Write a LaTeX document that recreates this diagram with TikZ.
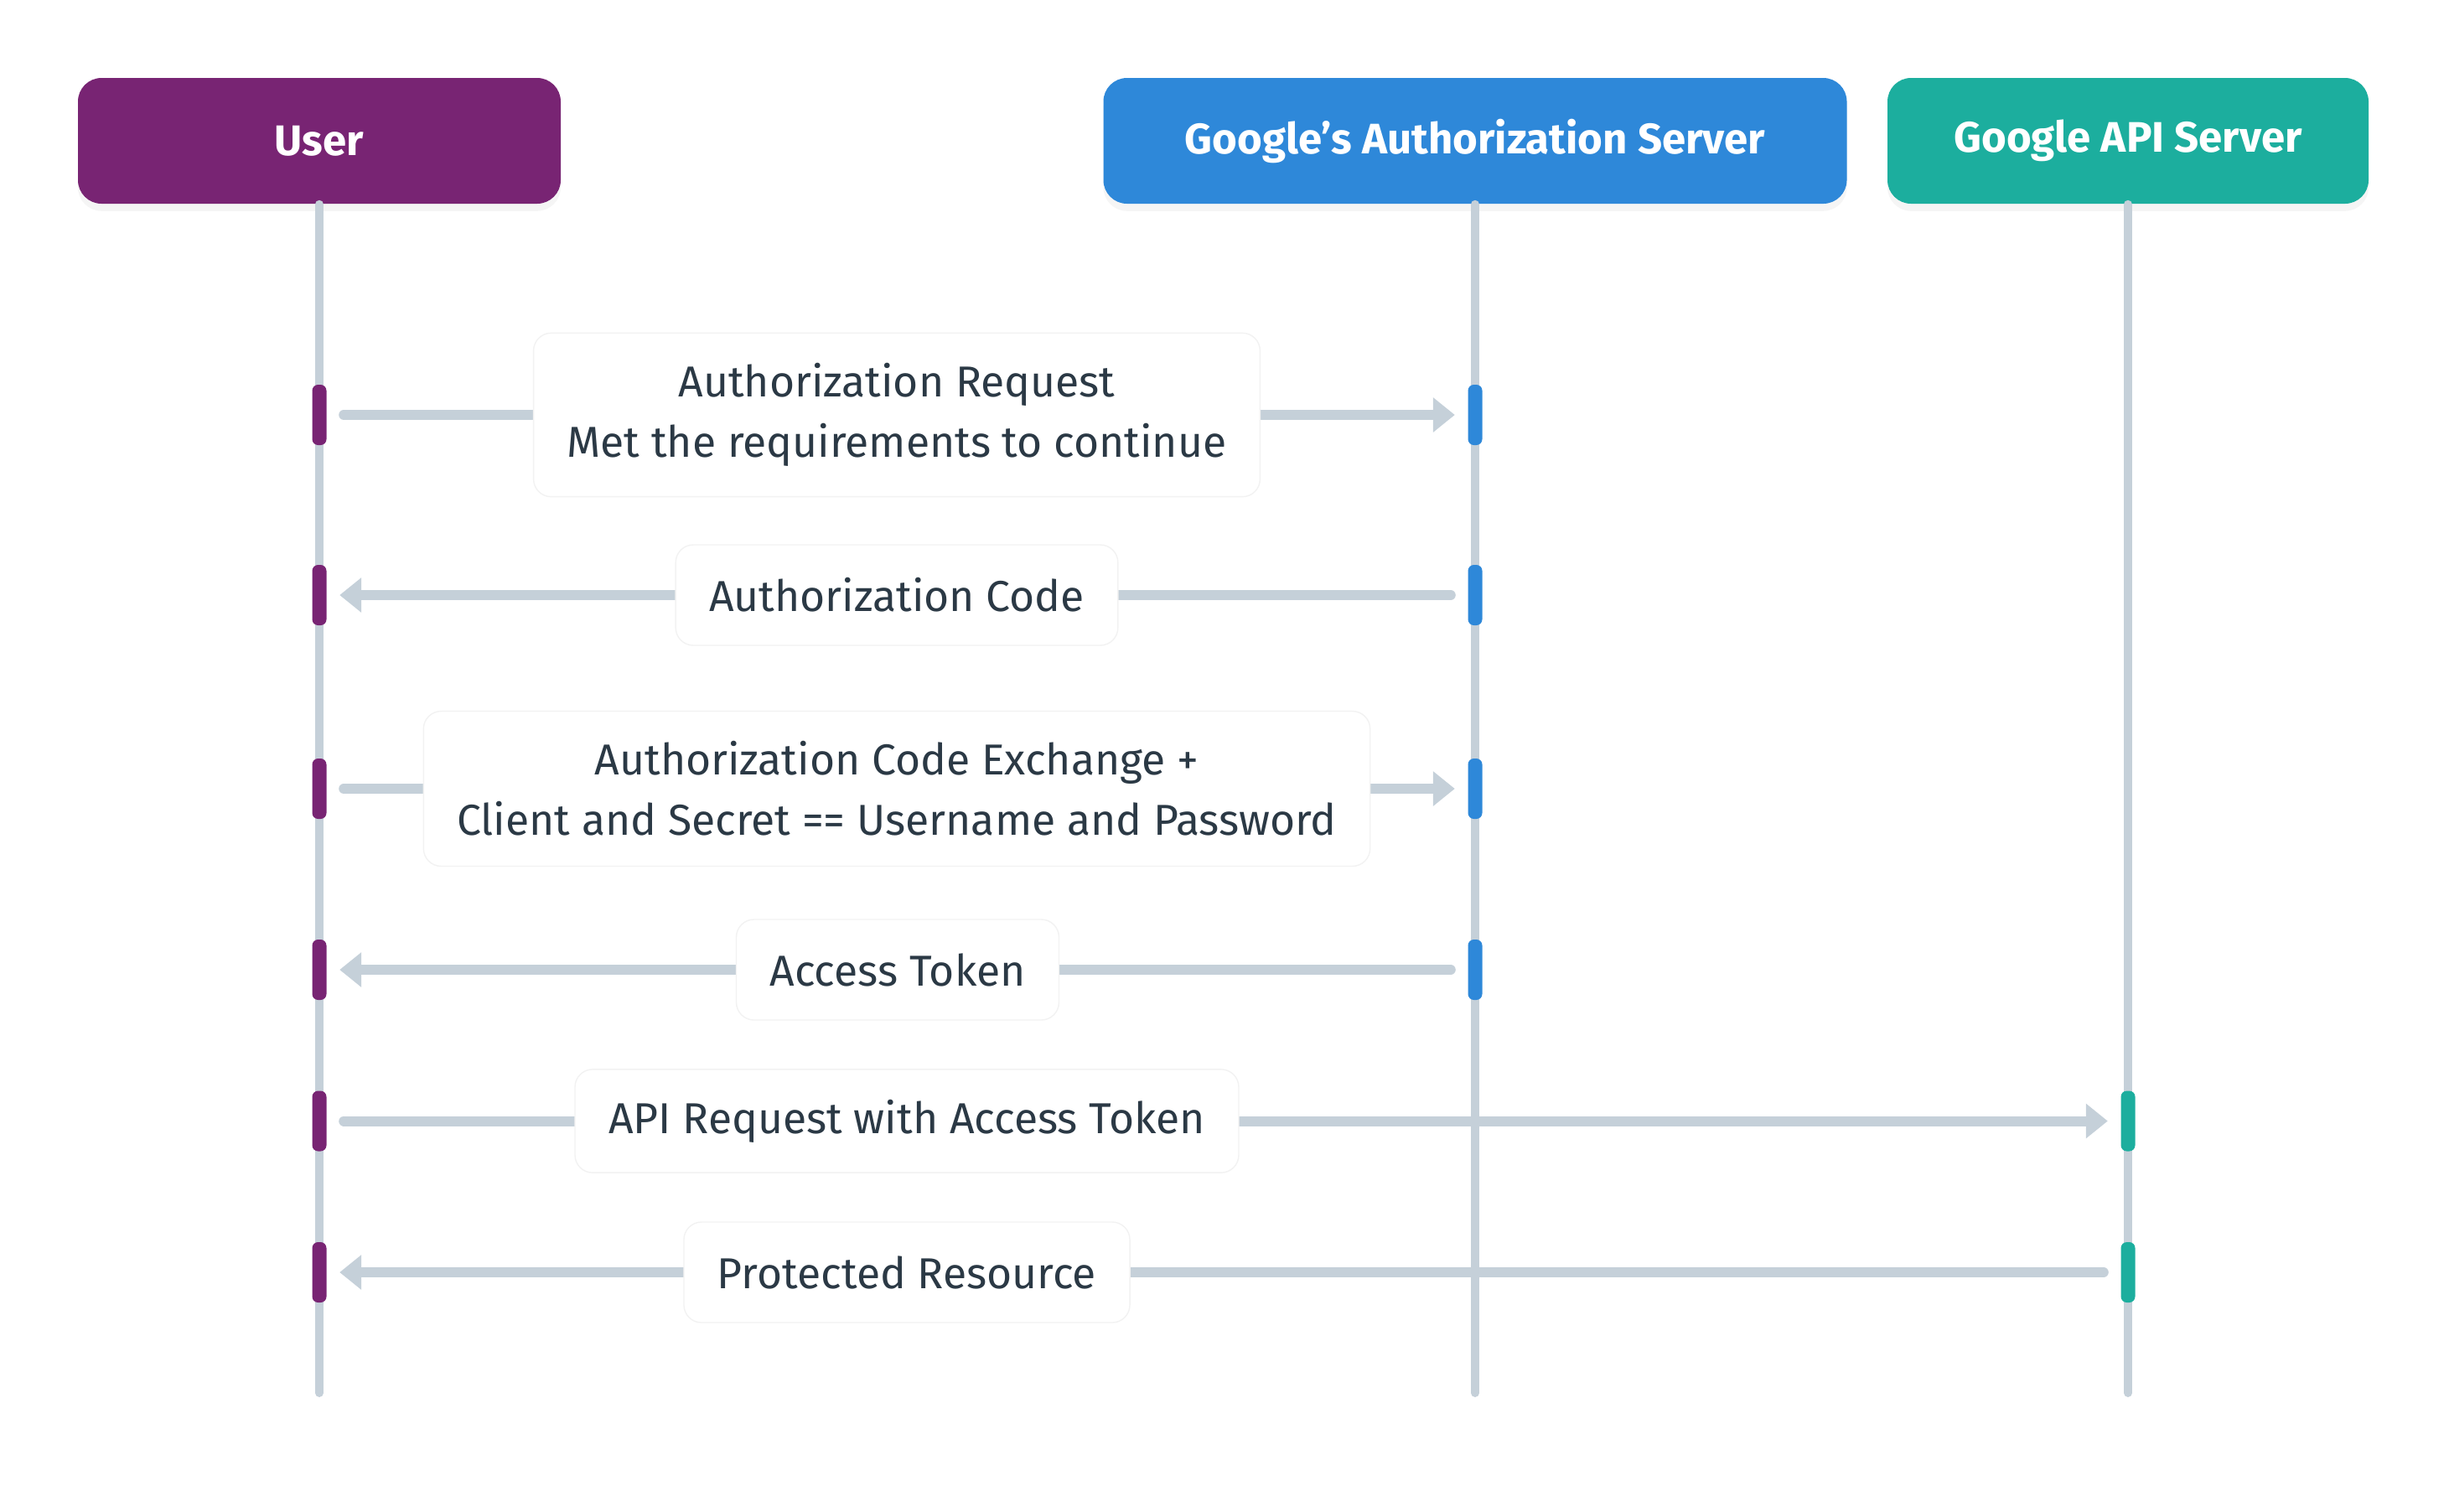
\documentclass[tikz,border=0pt]{standalone}
\usepackage{fontspec}
\setmainfont{Fira Sans}
\usetikzlibrary{arrows.meta,shadows}

\definecolor{userpurple}{HTML}{782473}
\definecolor{authblue}{HTML}{2E88D9}
\definecolor{apiteal}{HTML}{1CAE9E}
\definecolor{lifegray}{HTML}{C5D0D9}
\definecolor{msgtext}{HTML}{2B3945}

\begin{document}
\begin{tikzpicture}[>={Triangle[length=7.4pt,width=11.4pt]},
  head/.style={rounded corners=8pt, minimum height=1.5cm, text=white,
    font=\bfseries\fontsize{14.5}{17}\selectfont,
    drop shadow={shadow xshift=0pt, shadow yshift=-2.5pt, opacity=.08}},
  bar/.style={rounded corners=2pt, minimum width=0.17cm, minimum height=0.72cm, inner sep=0pt},
  msg/.style={fill=white, draw=black!5, rounded corners=6pt, align=center, text=msgtext,
    font=\fontsize{14.7}{20.5}\selectfont, inner xsep=0.4cm, inner ysep=0.36cm, minimum height=1.2cm},
  flow/.style={draw=lifegray, line width=3.4pt, line cap=round},
]

\useasboundingbox (0,0) rectangle (29.22,-18.03);

% 参与者
\node[head, fill=userpurple, minimum width=5.76cm] (user) at (3.81,-1.68) {User};
\node[head, fill=authblue, minimum width=8.87cm] (auth) at (17.60,-1.68) {Google’s Authorization Server};
\node[head, fill=apiteal, minimum width=5.74cm] (api) at (25.39,-1.68) {Google API Server};

% 生命线
\foreach \p in {user,auth,api}
  \draw[lifegray, line width=2.8pt, line cap=round] (\p.south) -- (\p.south |- 0,-16.62);

% 激活条
\foreach \n/\y in {1/4.95,2/7.10,3/9.41,4/11.57,5/13.375,6/15.18}
  \node[bar, fill=userpurple] (u\n) at (user |- 0,-\y) {};
\foreach \n/\y in {1/4.95,2/7.10,3/9.41,4/11.57}
  \node[bar, fill=authblue] (a\n) at (auth |- 0,-\y) {};
\foreach \n/\y in {5/13.375,6/15.18}
  \node[bar, fill=apiteal] (p\n) at (api |- 0,-\y) {};

% 消息箭头
\draw[flow, ->, shorten <=0.2cm, shorten >=0.15cm] (u1) -- (a1);
\draw[flow, ->, shorten <=0.2cm, shorten >=0.15cm] (a2) -- (u2);
\draw[flow, ->, shorten <=0.2cm, shorten >=0.15cm] (u3) -- (a3);
\draw[flow, ->, shorten <=0.2cm, shorten >=0.15cm] (a4) -- (u4);
\draw[flow, ->, shorten <=0.2cm, shorten >=0.15cm] (u5) -- (p5);
\draw[flow, ->, shorten <=0.2cm, shorten >=0.15cm] (p6) -- (u6);

% 消息标签
\node[msg] (m1) at (10.70,-4.95) {Authorization Request\\Met the requirements to continue};
\node[msg] (m2) at (10.70,-7.10) {Authorization Code};
\node[msg] (m3) at (10.70,-9.41) {Authorization Code Exchange +\\Client and Secret == Username and Password};
\node[msg] (m4) at (10.71,-11.57) {Access Token};
\node[msg] (m5) at (10.82,-13.375) {API Request with Access Token};
\node[msg] (m6) at (10.82,-15.18) {Protected Resource};

\end{tikzpicture}
\end{document}
